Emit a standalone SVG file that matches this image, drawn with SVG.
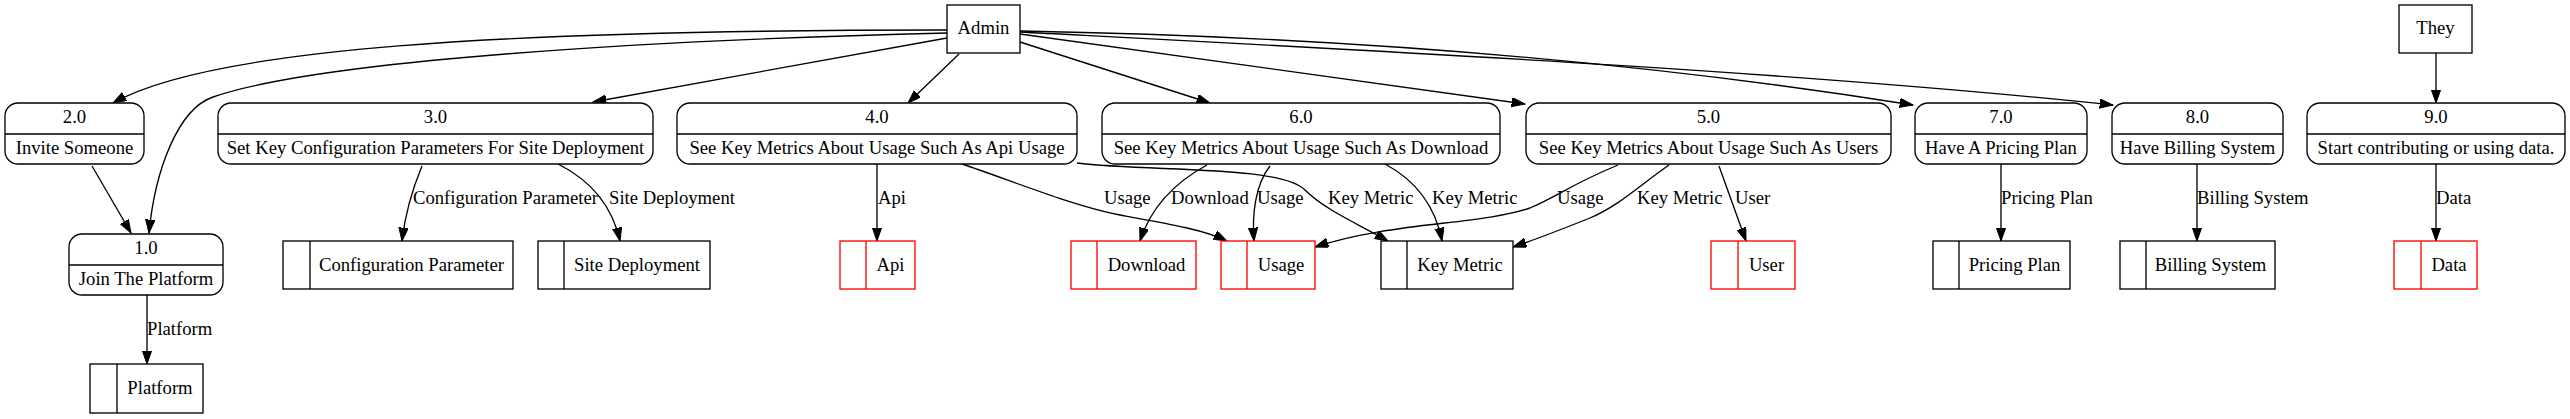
<svg xmlns="http://www.w3.org/2000/svg" width="2570" height="419" viewBox="0 0 2570 419">
<style>
text{font-family:"Liberation Serif","Times New Roman",serif;font-size:18.67px;fill:#000}
.c{text-anchor:middle}
.s{text-anchor:start}
.n{fill:#fff;stroke:#000;stroke-width:1.33}
.r{fill:#fff;stroke:#ff0000;stroke-width:1.33}
.lr{stroke:#ff0000;stroke-width:1.33}
.ln{stroke:#000;stroke-width:1.33}
.e{fill:none;stroke:#000;stroke-width:1.33;marker-end:url(#ah)}
</style>
<defs>
<marker id="ah" markerUnits="userSpaceOnUse" markerWidth="14" markerHeight="10" refX="13.3" refY="4.67" orient="auto">
<path d="M0,0 L13.3,4.67 L0,9.33 z" fill="#000" stroke="#000" stroke-width="1"/>
</marker>
</defs>
<rect width="2570" height="419" fill="#fff"/>
<g id="connectors">
<path class="e" d="M947,30 C500,30 210,48 113,103"/>
<path class="e" d="M947,33 C650,40 320,60 213,97 C178,109 155,170 149,233"/>
<path class="e" d="M947,38 L593,102"/>
<path class="e" d="M959,54 L908,103"/>
<path class="e" d="M1020,42 L1210,103"/>
<path class="e" d="M1020,34 L1525,104"/>
<path class="e" d="M1020,31 C1300,36 1600,55 1913,105"/>
<path class="e" d="M1020,32 C1400,52 1800,72 2113,105"/>
<path class="e" d="M92,166 L131,233"/>
<path class="e" d="M147,295 L147,364"/>
<path class="e" d="M422,166 C412,190 405,215 402,241"/>
<path class="e" d="M558,164 C590,180 612,205 620,241"/>
<path class="e" d="M877,164 L877,241"/>
<path class="e" d="M962,164 C1010,180 1070,205 1120,215 C1170,224 1205,230 1227,241"/>
<path class="e" d="M1207,165 C1170,185 1150,210 1140,241"/>
<path class="e" d="M1270,166 C1255,185 1252,215 1254,241"/>
<path class="e" d="M1077,163 C1150,172 1280,165 1305,190 C1325,210 1360,225 1388,241"/>
<path class="e" d="M1385,164 C1415,180 1435,205 1442,241"/>
<path class="e" d="M1618,165 C1570,185 1560,195 1530,208 C1480,225 1390,222 1315,247"/>
<path class="e" d="M1669,165 C1640,185 1620,205 1590,218 C1565,228 1540,238 1513,247"/>
<path class="e" d="M1719,166 L1746,241"/>
<path class="e" d="M2001,164 L2001,241"/>
<path class="e" d="M2197,164 L2197,241"/>
<path class="e" d="M2436,53 L2436,103"/>
<path class="e" d="M2436,164 L2436,241"/>
<text class="s" x="147" y="335">Platform</text>
<text class="s" x="413" y="204">Configuration Parameter</text>
<text class="s" x="609" y="204">Site Deployment</text>
<text class="s" x="878" y="204">Api</text>
<text class="s" x="1104" y="204">Usage</text>
<text class="s" x="1171" y="204">Download</text>
<text class="s" x="1257" y="204">Usage</text>
<text class="s" x="1328" y="204">Key Metric</text>
<text class="s" x="1432" y="204">Key Metric</text>
<text class="s" x="1557" y="204">Usage</text>
<text class="s" x="1637" y="204">Key Metric</text>
<text class="s" x="1735" y="204">User</text>
<text class="s" x="2001" y="204">Pricing Plan</text>
<text class="s" x="2197" y="204">Billing System</text>
<text class="s" x="2436" y="204">Data</text>
</g>
<g id="admin"><rect class="n" x="947" y="5" width="73" height="48"/><text class="c" x="983.5" y="34">Admin</text></g>
<g id="they"><rect class="n" x="2399" y="5" width="73" height="48"/><text class="c" x="2435.5" y="34">They</text></g>
<g id="p2"><rect class="n" x="5" y="103" width="139" height="61" rx="13"/><line class="ln" x1="5" y1="134" x2="144" y2="134"/><text class="c" x="74.5" y="123">2.0</text><text class="c" x="74.5" y="154">Invite Someone</text></g>
<g id="p1"><rect class="n" x="69" y="234" width="154" height="61" rx="13"/><line class="ln" x1="69" y1="265" x2="223" y2="265"/><text class="c" x="146" y="254">1.0</text><text class="c" x="146" y="285">Join The Platform</text></g>
<g id="p3"><rect class="n" x="218" y="103" width="435" height="61" rx="13"/><line class="ln" x1="218" y1="134" x2="653" y2="134"/><text class="c" x="435.5" y="123">3.0</text><text class="c" x="435.5" y="154">Set Key Configuration Parameters For Site Deployment</text></g>
<g id="p4"><rect class="n" x="677" y="103" width="400" height="61" rx="13"/><line class="ln" x1="677" y1="134" x2="1077" y2="134"/><text class="c" x="877" y="123">4.0</text><text class="c" x="877" y="154">See Key Metrics About Usage Such As Api Usage</text></g>
<g id="p6"><rect class="n" x="1102" y="103" width="398" height="61" rx="13"/><line class="ln" x1="1102" y1="134" x2="1500" y2="134"/><text class="c" x="1301" y="123">6.0</text><text class="c" x="1301" y="154">See Key Metrics About Usage Such As Download</text></g>
<g id="p5"><rect class="n" x="1526" y="103" width="365" height="61" rx="13"/><line class="ln" x1="1526" y1="134" x2="1891" y2="134"/><text class="c" x="1708.5" y="123">5.0</text><text class="c" x="1708.5" y="154">See Key Metrics About Usage Such As Users</text></g>
<g id="p7"><rect class="n" x="1915" y="103" width="172" height="61" rx="13"/><line class="ln" x1="1915" y1="134" x2="2087" y2="134"/><text class="c" x="2001" y="123">7.0</text><text class="c" x="2001" y="154">Have A Pricing Plan</text></g>
<g id="p8"><rect class="n" x="2112" y="103" width="171" height="61" rx="13"/><line class="ln" x1="2112" y1="134" x2="2283" y2="134"/><text class="c" x="2197.5" y="123">8.0</text><text class="c" x="2197.5" y="154">Have Billing System</text></g>
<g id="p9"><rect class="n" x="2307" y="103" width="258" height="61" rx="13"/><line class="ln" x1="2307" y1="134" x2="2565" y2="134"/><text class="c" x="2436" y="123">9.0</text><text class="c" x="2436" y="154">Start contributing or using data.</text></g>
<g id="s_platform"><rect class="n" x="90" y="364" width="113" height="49"/><line class="ln" x1="117" y1="364" x2="117" y2="413"/><text class="c" x="160" y="394">Platform</text></g>
<g id="s_config"><rect class="n" x="283" y="241" width="230" height="48"/><line class="ln" x1="310" y1="241" x2="310" y2="289"/><text class="c" x="411.5" y="271">Configuration Parameter</text></g>
<g id="s_site"><rect class="n" x="538" y="241" width="172" height="48"/><line class="ln" x1="564" y1="241" x2="564" y2="289"/><text class="c" x="637" y="271">Site Deployment</text></g>
<g id="s_api"><rect class="r" x="840" y="241" width="75" height="48"/><line class="lr" x1="866" y1="241" x2="866" y2="289"/><text class="c" x="890.5" y="271">Api</text></g>
<g id="s_download"><rect class="r" x="1071" y="241" width="125" height="48"/><line class="lr" x1="1097" y1="241" x2="1097" y2="289"/><text class="c" x="1146.5" y="271">Download</text></g>
<g id="s_usage"><rect class="r" x="1221" y="241" width="94" height="48"/><line class="lr" x1="1247" y1="241" x2="1247" y2="289"/><text class="c" x="1281" y="271">Usage</text></g>
<g id="s_keymetric"><rect class="n" x="1381" y="241" width="132" height="48"/><line class="ln" x1="1407" y1="241" x2="1407" y2="289"/><text class="c" x="1460" y="271">Key Metric</text></g>
<g id="s_user"><rect class="r" x="1711" y="241" width="84" height="48"/><line class="lr" x1="1738" y1="241" x2="1738" y2="289"/><text class="c" x="1766.5" y="271">User</text></g>
<g id="s_pricing"><rect class="n" x="1933" y="241" width="137" height="48"/><line class="ln" x1="1959" y1="241" x2="1959" y2="289"/><text class="c" x="2014.5" y="271">Pricing Plan</text></g>
<g id="s_billing"><rect class="n" x="2120" y="241" width="155" height="48"/><line class="ln" x1="2146" y1="241" x2="2146" y2="289"/><text class="c" x="2210.5" y="271">Billing System</text></g>
<g id="s_data"><rect class="r" x="2394" y="241" width="83" height="48"/><line class="lr" x1="2421" y1="241" x2="2421" y2="289"/><text class="c" x="2449" y="271">Data</text></g>
</svg>
